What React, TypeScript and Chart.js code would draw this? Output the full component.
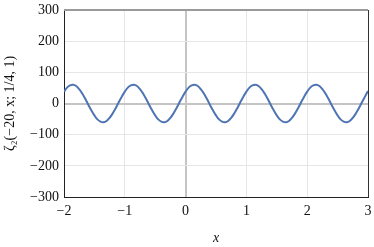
import React, { useEffect, useRef } from "react";
import { Chart, registerables } from "chart.js";

Chart.register(...registerables);

// x positions (step 0.05 from -2 to 3)
const xValues: number[] = [
  -2.0, -1.95, -1.9, -1.85, -1.8, -1.75, -1.7, -1.65, -1.6, -1.55,
  -1.5, -1.45, -1.4, -1.35, -1.3, -1.25, -1.2, -1.15, -1.1, -1.05,
  -1.0, -0.95, -0.9, -0.85, -0.8, -0.75, -0.7, -0.65, -0.6, -0.55,
  -0.5, -0.45, -0.4, -0.35, -0.3, -0.25, -0.2, -0.15, -0.1, -0.05,
  0.0, 0.05, 0.1, 0.15, 0.2, 0.25, 0.3, 0.35, 0.4, 0.45,
  0.5, 0.55, 0.6, 0.65, 0.7, 0.75, 0.8, 0.85, 0.9, 0.95,
  1.0, 1.05, 1.1, 1.15, 1.2, 1.25, 1.3, 1.35, 1.4, 1.45,
  1.5, 1.55, 1.6, 1.65, 1.7, 1.75, 1.8, 1.85, 1.9, 1.95,
  2.0, 2.05, 2.1, 2.15, 2.2, 2.25, 2.3, 2.35, 2.4, 2.45,
  2.5, 2.55, 2.6, 2.65, 2.7, 2.75, 2.8, 2.85, 2.9, 2.95,
  3.0,
];

// ζ2(−20, x; 1/4, 1)
const zetaValues: number[] = [
  38, 51, 58, 60, 56, 46, 32, 15, -4, -22,
  -38, -51, -58, -60, -56, -46, -32, -15, 4, 22,
  38, 51, 58, 60, 56, 46, 32, 15, -4, -22,
  -38, -51, -58, -60, -56, -46, -32, -15, 4, 22,
  38, 51, 58, 60, 56, 46, 32, 15, -4, -22,
  -38, -51, -58, -60, -56, -46, -32, -15, 4, 22,
  38, 51, 58, 60, 56, 46, 32, 15, -4, -22,
  -38, -51, -58, -60, -56, -46, -32, -15, 4, 22,
  38, 51, 58, 60, 56, 46, 32, 15, -4, -22,
  -38, -51, -58, -60, -56, -46, -32, -15, 4, 22,
  40,
];

const xTicks: number[] = [-2, -1, 0, 1, 2, 3];
const yTicks: number[] = [-300, -200, -100, 0, 100, 200, 300];

const FONT = "'Liberation Serif', 'DejaVu Serif', serif";

const framePlugin = {
  id: "frame",
  afterDraw(chart: any) {
    const { ctx, chartArea } = chart;
    ctx.save();
    ctx.strokeStyle = "#9a9a9a";
    ctx.lineWidth = 2;
    ctx.beginPath();
    ctx.moveTo(chartArea.left, chartArea.top);
    ctx.lineTo(chartArea.right, chartArea.top);
    ctx.stroke();
    ctx.strokeStyle = "#333333";
    ctx.lineWidth = 1;
    ctx.beginPath();
    ctx.moveTo(chartArea.right + 0.5, chartArea.top);
    ctx.lineTo(chartArea.right + 0.5, chartArea.bottom);
    ctx.stroke();
    ctx.restore();
  },
};

export default function App() {
  const ref = useRef<HTMLCanvasElement>(null);

  useEffect(() => {
    document.body.style.margin = "0";
    const canvas = ref.current;
    if (!canvas) return;
    const chart = new Chart(canvas, {
      type: "line",
      data: {
        datasets: [
          {
            data: xValues.map((x, i) => ({ x, y: zetaValues[i] })),
            borderColor: "#4f74b3",
            borderWidth: 2,
            pointRadius: 0,
            tension: 0.4,
            fill: false,
          },
        ],
      },
      options: {
        animation: false,
        responsive: false,
        maintainAspectRatio: false,
        layout: { padding: { top: 10, right: 6, left: 2, bottom: 0 } },
        plugins: {
          legend: { display: false },
          tooltip: { enabled: false },
        },
        scales: {
          x: {
            type: "linear",
            min: -2,
            max: 3,
            afterBuildTicks: (scale: any) => {
              scale.ticks = xTicks.map((v) => ({ value: v }));
            },
            afterFit: (scale: any) => {
              scale.height = 50;
              scale.paddingLeft = 0;
              scale.paddingRight = 0;
            },
            grid: {
              color: (c: any) => (c.tick && c.tick.value === 0 ? "#c4c4c4" : "#e6e6e6"),
              lineWidth: (c: any) => (c.tick && c.tick.value === 0 ? 2 : 1),
              tickLength: 0,
            },
            border: { color: "#222222", width: 1 },
            ticks: {
              color: "#111111",
              font: { family: FONT, size: 14 },
              padding: 6,
              maxRotation: 0,
              callback: (v: any) => (Number(v) < 0 ? "\u2212" + Math.abs(Number(v)) : String(v)),
            },
            title: {
              display: true,
              text: "x",
              color: "#111111",
              font: { family: FONT, size: 14, style: "italic" },
              padding: { top: 4, bottom: 0 },
            },
          },
          y: {
            type: "linear",
            min: -300,
            max: 300,
            afterBuildTicks: (scale: any) => {
              scale.ticks = yTicks.map((v) => ({ value: v }));
            },
            afterFit: (scale: any) => {
              scale.width = 62;
              scale.paddingTop = 0;
              scale.paddingBottom = 0;
            },
            grid: {
              color: (c: any) => (c.tick && c.tick.value === 0 ? "#c4c4c4" : "#e6e6e6"),
              lineWidth: (c: any) => (c.tick && c.tick.value === 0 ? 2 : 1),
              tickLength: 0,
            },
            border: { color: "#222222", width: 1 },
            ticks: {
              color: "#111111",
              font: { family: FONT, size: 14 },
              padding: 5,
              callback: (v: any) => (Number(v) < 0 ? "\u2212" + Math.abs(Number(v)) : String(v)),
            },
            title: {
              display: true,
              text: "\u03B6\u2082(\u221220, x; 1/4, 1)",
              color: "#111111",
              font: { family: FONT, size: 14 },
              padding: { top: 0, bottom: 0 },
            },
          },
        },
      },
      plugins: [framePlugin],
    } as any);
    return () => chart.destroy();
  }, []);

  return (
    <div style={{ position: "absolute", left: 0, top: 0, width: 374, height: 247 }}>
      <canvas ref={ref} width={374} height={247} style={{ width: 374, height: 247 }} />
    </div>
  );
}
